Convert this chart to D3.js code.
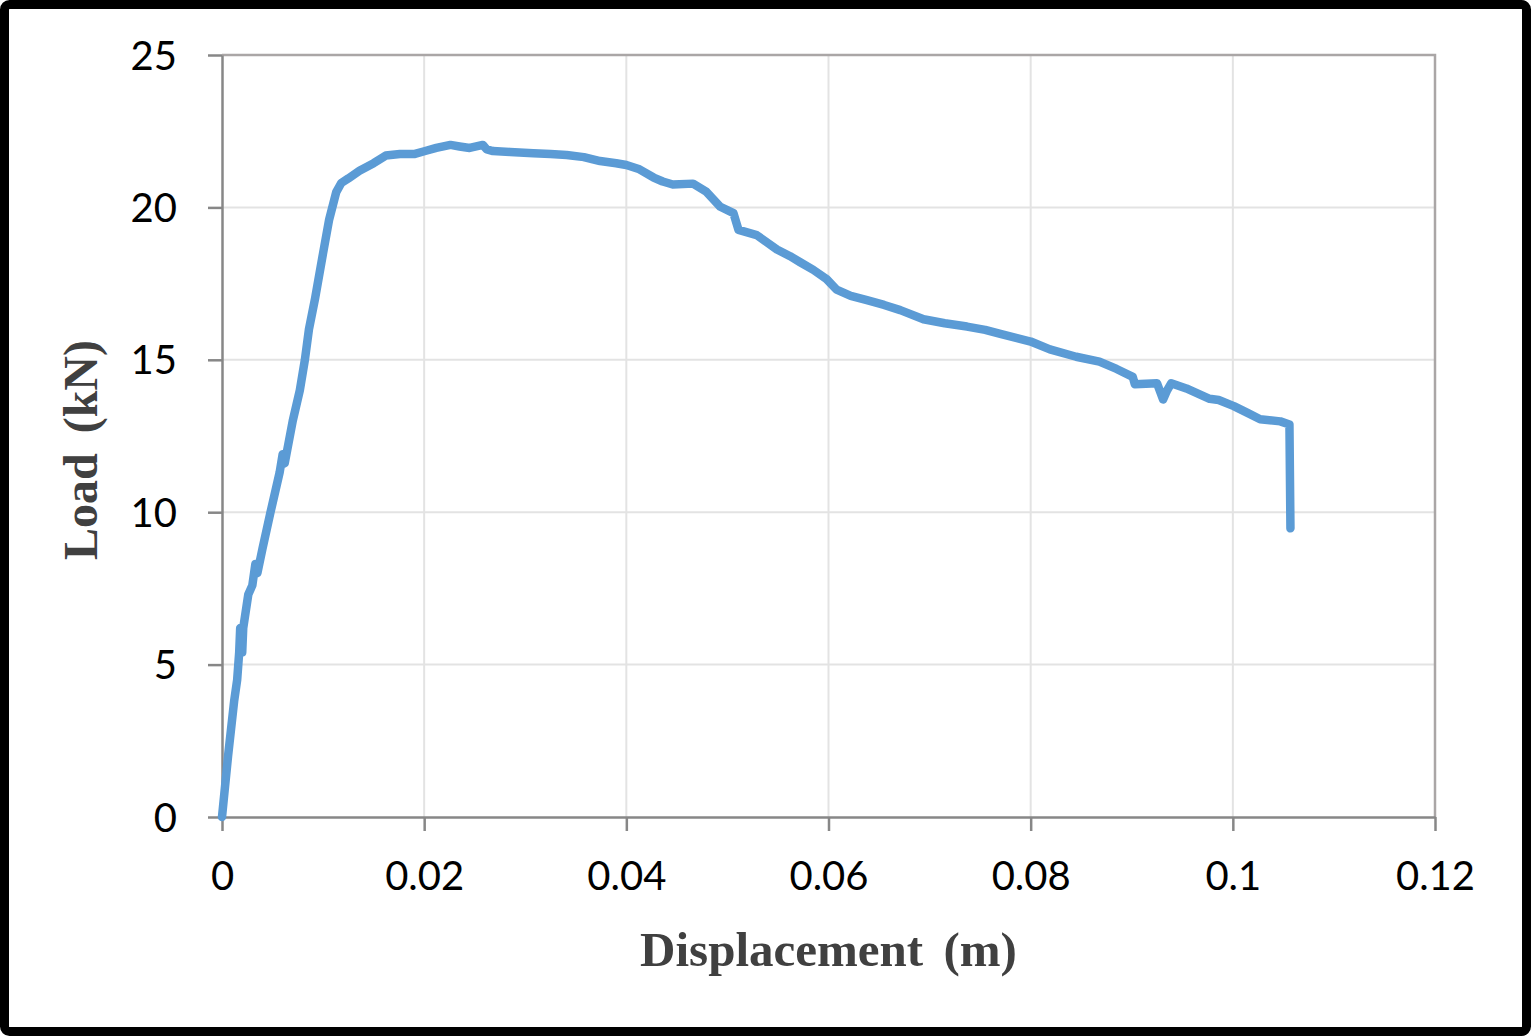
<!DOCTYPE html>
<html>
<head>
<meta charset="utf-8">
<script src="https://cdn.jsdelivr.net/npm/d3@7"></script>
<style>
  html, body { margin: 0; padding: 0; background: #fff; }
  svg { display: block; }
</style>
</head>
<body>
<svg id="chart" width="1531" height="1036"></svg>
<script>
// ---- data ----
const displacement = [
  0, 0.0006, 0.0012, 0.0015, 0.0017, 0.0018, 0.0020, 0.0021, 0.0026, 0.0030,
  0.0033, 0.0035, 0.0040, 0.0048, 0.0057, 0.0060, 0.0062, 0.0070, 0.0077, 0.0082,
  0.0086, 0.0092, 0.0100, 0.0106, 0.0113, 0.0118, 0.0125, 0.0136, 0.0150, 0.0162,
  0.0176, 0.0190, 0.0201, 0.0212, 0.0226, 0.0235, 0.0245, 0.0258, 0.0262, 0.0268,
  0.0285, 0.0308, 0.0325, 0.0341, 0.0358, 0.0374, 0.0390,
  0.0400, 0.0413, 0.0427, 0.0436, 0.0446, 0.0466, 0.0479, 0.0493, 0.0506, 0.0511, 0.0529,
  0.0549, 0.0562, 0.0572, 0.0585, 0.0598, 0.0608, 0.0622, 0.0638, 0.0655, 0.0671, 0.0694,
  0.0715, 0.0737, 0.0755, 0.0770, 0.0800,
  0.0819, 0.0845, 0.0868, 0.0885, 0.0901, 0.0903, 0.0925, 0.0931, 0.0935, 0.0939, 0.0954,
  0.0977, 0.0986, 0.1001, 0.1015, 0.1027, 0.1047, 0.1056, 0.1057
];
const load = [
  0, 2.0, 3.8, 4.5, 5.4, 6.2, 5.4, 6.2, 7.3, 7.6,
  8.3, 8.0, 8.8, 10.0, 11.3, 11.9, 11.6, 13.0, 14.0, 15.0,
  16.0, 17.0, 18.5, 19.6, 20.5, 20.8, 20.95, 21.2, 21.45, 21.7,
  21.75, 21.75, 21.85, 21.95, 22.05, 22.0, 21.95, 22.05, 21.9, 21.85,
  21.82, 21.78, 21.75, 21.72, 21.65, 21.52, 21.45,
  21.39, 21.25, 20.98, 20.85, 20.75, 20.78, 20.52, 20.02, 19.81, 19.26, 19.09,
  18.62, 18.4, 18.2, 17.95, 17.65, 17.3, 17.1, 16.96, 16.8, 16.63, 16.33,
  16.2, 16.09, 15.98, 15.85, 15.6,
  15.34, 15.1, 14.94, 14.7, 14.44, 14.2, 14.23, 13.7, 14.0, 14.23, 14.06,
  13.72, 13.68, 13.48, 13.25, 13.05, 12.98, 12.88, 9.47
];
const xTicks = [0, 0.02, 0.04, 0.06, 0.08, 0.1, 0.12];
const xTickLabels = ["0", "0.02", "0.04", "0.06", "0.08", "0.1", "0.12"];
const yTicks = [0, 5, 10, 15, 20, 25];
const yTickLabels = ["0", "5", "10", "15", "20", "25"];
const xTitle = "Displacement (m)";
const yTitle = "Load (kN)";

// ---- layout ----
const svg = d3.select("#chart");
const W = 1531, H = 1036;
const pL = 222, pR = 1435, pT = 55, pB = 817;

const x = d3.scaleLinear().domain([0, 0.12]).range([pL, pR]);
const y = d3.scaleLinear().domain([0, 25]).range([pB, pT]);

// outer frame
svg.append("rect")
  .attr("x", 4.5).attr("y", 4.5)
  .attr("width", W - 9).attr("height", H - 9)
  .attr("rx", 5)
  .attr("fill", "#fff").attr("stroke", "#000").attr("stroke-width", 9);

// gridlines
const grid = svg.append("g");
grid.selectAll("line.h").data(yTicks.filter(d => d > 0 && d < 25)).join("line")
  .attr("x1", pL).attr("x2", pR)
  .attr("y1", d => y(d)).attr("y2", d => y(d))
  .attr("stroke", "#e3e3e3").attr("stroke-width", 2);
grid.selectAll("line.v").data(xTicks.filter(d => d > 0 && d < 0.12)).join("line")
  .attr("y1", pT).attr("y2", pB)
  .attr("x1", d => x(d)).attr("x2", d => x(d))
  .attr("stroke", "#e3e3e3").attr("stroke-width", 2);

// plot area border top/right
svg.append("path")
  .attr("d", `M${pL},${pT}H${pR}V${pB}`)
  .attr("fill", "none").attr("stroke", "#aaa6a6").attr("stroke-width", 2.5);

// axes
const xAxis = d3.axisBottom(x).tickValues(xTicks)
  .tickFormat((d, i) => xTickLabels[i]).tickSizeInner(14).tickSizeOuter(0).tickPadding(31);
const yAxis = d3.axisLeft(y).tickValues(yTicks)
  .tickFormat((d, i) => yTickLabels[i]).tickSizeInner(14).tickSizeOuter(0).tickPadding(31);

const gx = svg.append("g").attr("transform", `translate(0,${pB})`).call(xAxis);
const gy = svg.append("g").attr("transform", `translate(${pL},0)`).call(yAxis);

[gx, gy].forEach(g => {
  g.select(".domain").attr("stroke", "#878787").attr("stroke-width", 2.5);
  g.selectAll(".tick line").attr("stroke", "#878787").attr("stroke-width", 2.5);
  g.selectAll(".tick text")
    .attr("fill", "#000")
    .style("font-family", "Lato, 'Open Sans', sans-serif")
    .style("font-size", "40px");
});
gx.selectAll(".tick text").attr("dy", "0.71em");
gy.selectAll(".tick text").attr("dy", "0.35em");

// data line
const line = d3.line()
  .x((d, i) => x(displacement[i]))
  .y((d, i) => y(load[i]));

svg.append("path")
  .datum(load)
  .attr("d", line)
  .attr("fill", "none")
  .attr("stroke", "#5b9bd5")
  .attr("stroke-width", 8.5)
  .attr("stroke-linejoin", "round")
  .attr("stroke-linecap", "round");

// axis titles
svg.append("text")
  .attr("x", (pL + pR) / 2)
  .attr("y", 966)
  .attr("text-anchor", "middle")
  .attr("fill", "#404040")
  .style("font-family", "'Liberation Serif', 'Times New Roman', serif")
  .style("font-weight", "bold")
  .style("font-size", "49px")
  .style("word-spacing", "8px")
  .text(xTitle);

svg.append("text")
  .attr("transform", `translate(97,450) rotate(-90)`)
  .attr("text-anchor", "middle")
  .attr("fill", "#404040")
  .style("font-family", "'Liberation Serif', 'Times New Roman', serif")
  .style("font-weight", "bold")
  .style("font-size", "48px")
  .style("word-spacing", "8px")
  .text(yTitle);
</script>
</body>
</html>
